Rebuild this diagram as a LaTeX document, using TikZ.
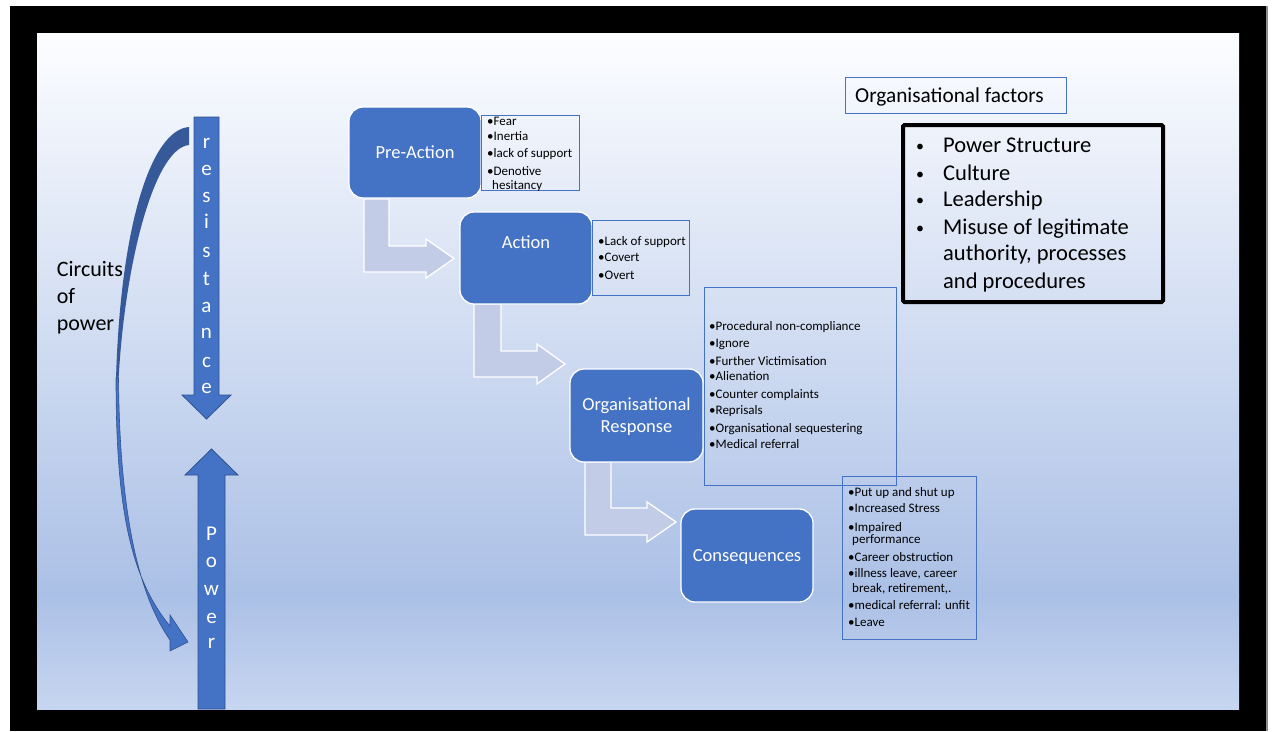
\documentclass[tikz,border=0pt]{standalone}
\usepackage{fontspec}
\setmainfont{Carlito}
\definecolor{pblue}{HTML}{4472C4}
\definecolor{dblue}{HTML}{2F528F}
\definecolor{bblue}{HTML}{36599A}
\definecolor{bentfill}{HTML}{C3CCE6}
\definecolor{bgtop}{HTML}{FCFDFF}
\definecolor{bgmid}{HTML}{ABC0E6}
\definecolor{bgbot}{HTML}{C7D6F0}
\begin{document}
\begin{tikzpicture}[x=1pt,y=-1pt,
 stepbox/.style={draw=white, line width=1.3pt, fill=pblue, rounded corners=14pt, inner sep=0pt},
 listbox/.style={draw=pblue, line width=0.9pt, inner sep=0pt},
 bent/.style={draw=white, line width=1.3pt, fill=bentfill},
 bigarrow/.style={draw=dblue, line width=0.8pt, fill=pblue},
 boxtitle/.style={text=white, font=\fontsize{18.5}{22}\selectfont, anchor=base, inner sep=0pt},
 li/.style={anchor=base west, inner sep=0pt, font=\fontsize{13}{15}\selectfont},
 arrowletter/.style={text=white, anchor=base, inner sep=0pt, font=\fontsize{21}{24}\selectfont},
 bigtext/.style={anchor=base west, inner sep=0pt, font=\fontsize{22.5}{26}\selectfont},
 bul/.style={anchor=base west, inner sep=0pt, font=\fontsize{16}{18}\selectfont}
]
\useasboundingbox (0,0) rectangle (1274,731);
% frame
\fill[white] (0,0) rectangle (1274,731);
\fill[black!45] (1266,6) rectangle (1268,731);
\fill[black] (10,6) rectangle (1266,731);
% slide background
\shade[top color=bgtop, bottom color=bgmid] (37,33) rectangle (1239,595);
\shade[top color=bgmid, bottom color=bgbot] (37,595) rectangle (1239,709);

% curved arrow (back band)
\fill[bblue] (189,127) .. controls (150,130) and (120,230) .. (116,380) -- (118.5,380) .. controls (125,260) and (155,148) .. (189,145) -- cycle;
% curved arrow (front band with head)
\filldraw[fill=pblue, draw=dblue, line width=0.6pt] (116,378) .. controls (116,500) and (128,575) .. (170,626) -- (170,615) -- (188,642) -- (170,651) -- (170,640) .. controls (135,590) and (119.5,500) .. (118.5,378) -- cycle;

% resistance arrow
\filldraw[bigarrow] (194,117) -- (219,117) -- (219,395) -- (231,395) -- (206.5,419) -- (182,395) -- (194,395) -- cycle;
\foreach \l/\yy [count=\i] in {r/148,e/175,s/202,i/228,s/257,t/285,a/312,n/338,c/367,e/393}
  \node[arrowletter] (res\i) at (206.5,\yy) {\l};
% power arrow
\filldraw[bigarrow] (198,709) -- (198,475) -- (185,475) -- (211.5,449) -- (238,475) -- (225,475) -- (225,709) -- cycle;
\foreach \l/\yy [count=\i] in {P/540,o/567,w/595,e/623,r/648}
  \node[arrowletter] (pow\i) at (211.5,\yy) {\l};

% circuits of power
\node[bigtext, font=\fontsize{22}{26}\selectfont] (c1) at (56.7,276.7) {Circuits};
\node[bigtext, font=\fontsize{22}{26}\selectfont] (c2) at (56.7,303) {of};
\node[bigtext, font=\fontsize{22}{26}\selectfont] (c3) at (56.7,330) {power};

% bent arrows
\filldraw[bent] (364,199) -- (389,199) -- (389,246) -- (426,246) -- (426,239) -- (454,258.5) -- (426,278) -- (426,272) -- (364,272) -- cycle;
\filldraw[bent] (474,304) -- (501,304) -- (501,351) -- (537,351) -- (537,344) -- (565,364) -- (537,384) -- (537,377) -- (474,377) -- cycle;
\filldraw[bent] (585,462) -- (611,462) -- (611,508) -- (647,508) -- (647,502) -- (676,522) -- (647,542) -- (647,535) -- (585,535) -- cycle;

% step boxes
\node[stepbox, minimum width=132pt, minimum height=91pt] (pre) at (415,152.5) {};
\node[stepbox, minimum width=132pt, minimum height=92pt] (act) at (526,258) {};
\node[stepbox, minimum width=133pt, minimum height=93pt] (org) at (636.5,415.5) {};
\node[stepbox, minimum width=132pt, minimum height=93pt] (con) at (747,555.5) {};
\node[boxtitle] (pret) at (415,158.5) {Pre-Action};
\node[boxtitle] (actt) at (526,248) {Action};
\node[boxtitle] (orgt1) at (636.5,410) {Organisational};
\node[boxtitle] (orgt2) at (636.5,432) {Response};
\node[boxtitle] (cont) at (747,561) {Consequences};

% list boxes
\node[listbox, minimum width=98pt, minimum height=75pt] (prel) at (530,152.5) {};
\node[listbox, minimum width=97pt, minimum height=75pt] (actl) at (640.5,257.5) {};
\node[listbox, minimum width=192pt, minimum height=198pt] (orgl) at (800,386) {};
\node[listbox, minimum width=134pt, minimum height=163pt] (conl) at (909,557.5) {};

\node[li] (pl1) at (487,125.5) {•Fear};
\node[li] (pl2) at (487,140.7) {•Inertia};
\node[li] (pl3) at (487,157) {•lack of support};
\node[li] (pl4) at (487,175) {•Denotive};
\node[li] (pl5) at (492,189) {hesitancy};

\node[li] (al1) at (598,245.7) {•Lack of support};
\node[li] (al2) at (598,261) {•Covert};
\node[li] (al3) at (598,279) {•Overt};

\node[li] (ol1) at (709,330.7) {•Procedural non-compliance};
\node[li] (ol2) at (709,347.7) {•Ignore};
\node[li] (ol3) at (709,365) {•Further Victimisation};
\node[li] (ol4) at (709,380.7) {•Alienation};
\node[li] (ol5) at (709,398.7) {•Counter complaints};
\node[li] (ol6) at (709,414.3) {•Reprisals};
\node[li] (ol7) at (709,432.7) {•Organisational sequestering};
\node[li] (ol8) at (709,448.3) {•Medical referral};

\node[li] (cl1) at (848,496.7) {•Put up and shut up};
\node[li] (cl2) at (848,512.7) {•Increased Stress};
\node[li] (cl3) at (848,531) {•Impaired};
\node[li] (cl4) at (852,543.3) {performance};
\node[li] (cl5) at (848,561.7) {•Career obstruction};
\node[li] (cl6) at (848,577.7) {•illness leave, career};
\node[li] (cl7) at (852,592.3) {break, retirement,.};
\node[li] (cl8) at (848,609.3) {•medical referral: unfit};
\node[li] (cl9) at (848,626.7) {•Leave};

% organisational factors
\node[draw=pblue, line width=0.9pt, inner sep=0pt, minimum width=221pt, minimum height=36pt] (ofbox) at (955.5,95) {};
\node[anchor=base west, inner sep=0pt, font=\fontsize{21.3}{25}\selectfont] (oft) at (855,102.7) {Organisational factors};

\node[draw=black, line width=4pt, rounded corners=1.5pt, inner sep=0pt, minimum width=260pt, minimum height=177pt] (fbox) at (1033,213.5) {};
\foreach \yy [count=\i] in {152.7,180,206.7,234.3}
  \node[bul] (fb\i) at (916,\yy-1) {•};
\node[bigtext] (f1) at (943,152.7) {Power Structure};
\node[bigtext] (f2) at (943,180) {Culture};
\node[bigtext] (f3) at (943,206.7) {Leadership};
\node[bigtext] (f4) at (943,234.3) {Misuse of legitimate};
\node[bigtext] (f5) at (943,260.7) {authority, processes};
\node[bigtext] (f6) at (943,288.3) {and procedures};
\end{tikzpicture}
\end{document}
